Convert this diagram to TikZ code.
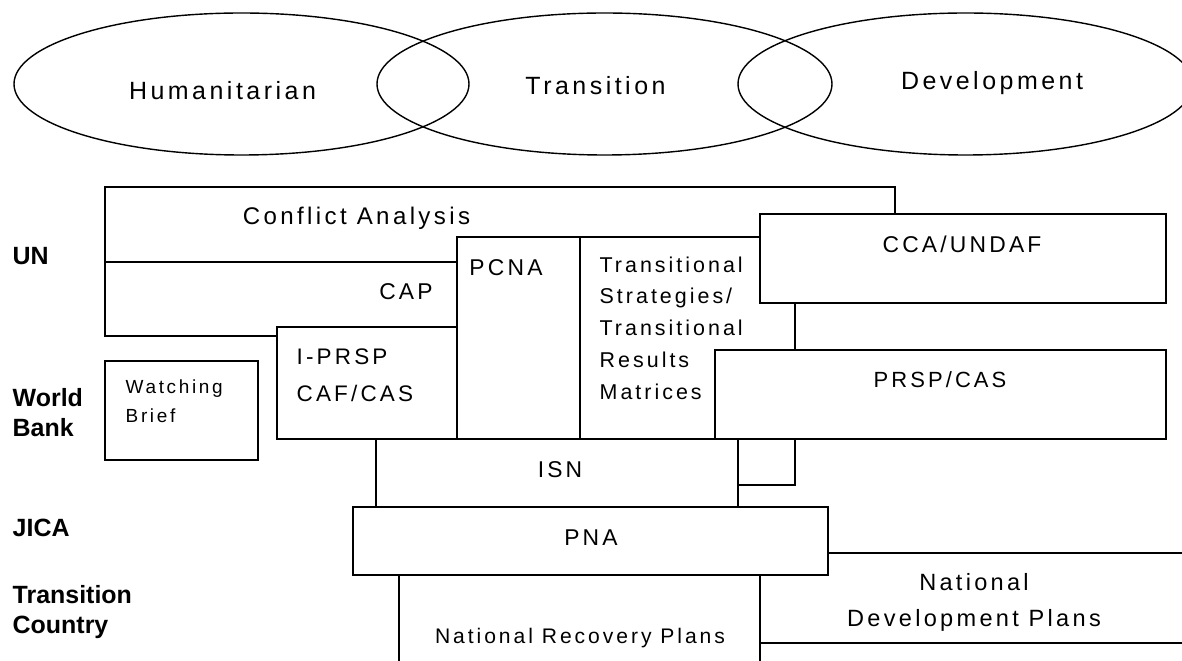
\documentclass[tikz,border=0pt]{standalone}
\usepackage{fontspec}
\setmainfont{Liberation Sans}
\newfontfamily\boxfont[LetterSpace=14]{Liberation Sans}
\definecolor{Black}{RGB}{0,0,0}
\definecolor{White}{RGB}{255,255,255}

\begin{document}
\begin{tikzpicture}[x=0.2mm, y=-0.2mm, line width=0.8pt,
		lbl/.style 2 args={inner sep=0pt, font=\boxfont\fontsize{#1}{#2}\selectfont},
		side/.style={inner sep=0pt, align=left, font=\bfseries\fontsize{14.2}{17}\selectfont}]
		
		\useasboundingbox (0,0) rectangle (1182,661);
		
		% Ellipses
		\draw [draw=Black] (241.5,84) ellipse [x radius=45.5mm, y radius=14.2mm];
		\draw [draw=Black] (604.5,84) ellipse [x radius=45.5mm, y radius=14.2mm];
		\draw [draw=Black] (965.5,84) ellipse [x radius=45.5mm, y radius=14.2mm];
		
		% Rectangle
		\draw [draw=Black] (457,262) -- (105,262);
		\draw [draw=Black] (277,336) -- (105,336) -- (105,187) -- (895,187) -- (895,214);
		\filldraw [fill=White, draw=Black] (580,237) rectangle (795,485);
		\filldraw [fill=White, draw=Black] (457,237) rectangle (580,439);
		\filldraw [fill=White, draw=Black] (277,327) rectangle (457,439);
		\filldraw [fill=White, draw=Black] (760,214) rectangle (1166,303);
		\filldraw [fill=White, draw=Black] (715,350) rectangle (1166,439);
		\filldraw [fill=White, draw=Black] (376,439) rectangle (738,507);
		\filldraw [fill=White, draw=Black] (353,507) rectangle (828,575);
		\filldraw [fill=White, draw=Black] (105,361) rectangle (258,460);
		
		% Plans
		\draw [draw=Black] (828,553) -- (1182,553);
		\draw [draw=Black] (399,575) -- (399,661);
		\draw [draw=Black] (760,575) -- (760,661);
		\draw [draw=Black] (760,643) -- (1182,643);
		
		% Text
		\node[lbl={14.2}{17}, anchor=base] (hum) at (222.5,100) {Humanitarian};
		\node[lbl={14.2}{17}, anchor=base] (tra) at (595.5,95) {Transition};
		\node[lbl={14.2}{17}, anchor=base] (dev) at (992,90) {Development};
		
		\node[lbl={13.7}{17}, anchor=base] (conf) at (356.5,225) {Conflict Analysis};
		\node[lbl={13}{17}, anchor=base] (cap) at (406,300) {CAP};
		\node[lbl={13}{17}, anchor=base] (pcna) at (506,276) {PCNA};
		\node[lbl={12.2}{18.06}, anchor=north west, align=left] (trans) at (599,256) {Transitional\\Strategies/\\Transitional\\Results\\Matrices};
		\node[lbl={13}{17}, anchor=base] (cca) at (962,253) {CCA/UNDAF};
		\node[lbl={12.8}{21}, anchor=north west, align=left] (iprsp) at (296,348) {I-PRSP\\CAF/CAS};
		\node[lbl={10.8}{16.5}, anchor=north west, align=left] (watch) at (125,379) {Watching\\Brief};
		\node[lbl={12.5}{17}, anchor=base] (prsp) at (940,388) {PRSP/CAS};
		\node[lbl={13}{17}, anchor=base] (isn) at (560,478) {ISN};
		\node[lbl={13}{17}, anchor=base] (pna) at (591,546) {PNA};
		\node[lbl={13.4}{20.5}, anchor=north, align=center] (ndp) at (974,573) {National\\Development Plans};
		\node[lbl={12}{17}, anchor=base] (nrp) at (580,643) {National Recovery Plans};
		
		\node[side, anchor=base west] (un) at (12,265) {UN};
		\node[side, anchor=north west] (wb) at (12,388) {World\\Bank};
		\node[side, anchor=base west] (jica) at (12,537) {JICA};
		\node[side, anchor=north west] (tc) at (12,585) {Transition\\Country};
		
	\end{tikzpicture}
\end{document}
